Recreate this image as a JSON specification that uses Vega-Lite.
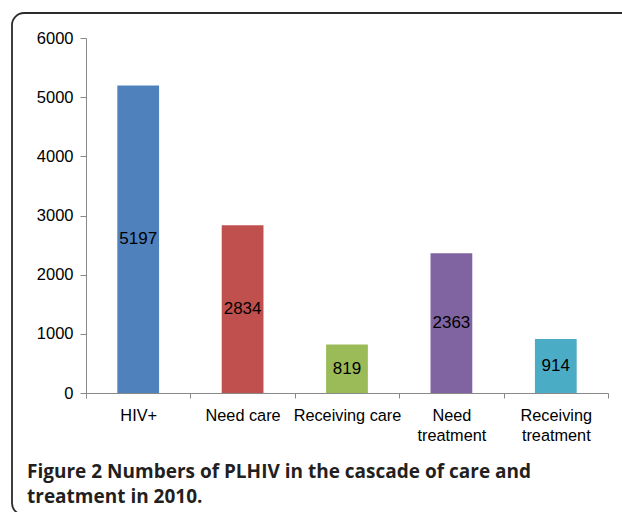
{
  "$schema": "https://vega.github.io/schema/vega-lite/v6.json",
  "autosize": {"type": "none"},
  "width": 630,
  "height": 502,
  "padding": {"left": 12, "top": 13, "right": 0, "bottom": 0},
  "background": "white",
  "config": {"view": {"stroke": "#2b2b2b", "strokeWidth": 1.8, "cornerRadius": 12}},
  "title": {
    "text": ["Figure 2 Numbers of PLHIV in the cascade of care and", "treatment in 2010."],
    "orient": "bottom",
    "anchor": "start",
    "frame": "group",
    "offset": -52,
    "dx": 15,
    "font": "Open Sans",
    "fontSize": 19,
    "fontWeight": "bold",
    "color": "#231f20",
    "lineHeight": 25
  },
  "data": {
    "values": [
      {"stage": "HIV+", "count": 5197},
      {"stage": "Need care", "count": 2834},
      {"stage": "Receiving care", "count": 819},
      {"stage": "Need treatment", "count": 2363},
      {"stage": "Receiving treatment", "count": 914}
    ]
  },
  "layer": [
    {
      "mark": {"type": "bar", "width": {"band": 0.4}},
      "encoding": {
        "x": {
          "field": "stage",
          "type": "nominal",
          "sort": null,
          "scale": {"range": [74, 596], "paddingInner": 0, "paddingOuter": 0},
          "axis": {
            "title": null,
            "orient": "bottom",
            "offset": -122,
            "tickBand": "extent",
            "tickSize": 5,
            "labelPadding": 9,
            "domainColor": "#898989",
            "tickColor": "#898989",
            "labelFont": "Liberation Sans",
            "labelFontSize": 16.3,
            "labelColor": "black",
            "labelAngle": 0,
            "labelOverlap": false,
            "labelLimit": 0,
            "labelLineHeight": 20,
            "labelExpr": "datum.label == 'Need treatment' ? ['Need', 'treatment'] : datum.label == 'Receiving treatment' ? ['Receiving', 'treatment'] : datum.label"
          }
        },
        "y": {
          "field": "count",
          "type": "quantitative",
          "scale": {"domain": [0, 6000], "range": [380, 25], "nice": false},
          "axis": {
            "title": null,
            "offset": -74,
            "values": [0, 1000, 2000, 3000, 4000, 5000, 6000],
            "format": "d",
            "grid": false,
            "tickSize": 6,
            "labelPadding": 7,
            "domainColor": "#898989",
            "tickColor": "#898989",
            "labelFont": "Liberation Sans",
            "labelFontSize": 16.5,
            "labelColor": "black"
          }
        },
        "color": {
          "field": "stage",
          "type": "nominal",
          "sort": null,
          "scale": {
            "domain": ["HIV+", "Need care", "Receiving care", "Need treatment", "Receiving treatment"],
            "range": ["#4f81bd", "#c0504d", "#9bbb59", "#8064a2", "#4bacc6"]
          },
          "legend": null
        }
      }
    },
    {
      "mark": {"type": "text", "font": "Liberation Sans", "fontSize": 17, "color": "black", "baseline": "middle"},
      "encoding": {
        "x": {"field": "stage", "type": "nominal", "sort": null},
        "y": {
          "field": "count",
          "type": "quantitative",
          "scale": {"domain": [0, 12000], "range": [380, 25], "nice": false},
          "axis": null
        },
        "text": {"field": "count", "type": "quantitative", "format": "d"}
      }
    }
  ],
  "resolve": {"scale": {"y": "independent"}}
}
